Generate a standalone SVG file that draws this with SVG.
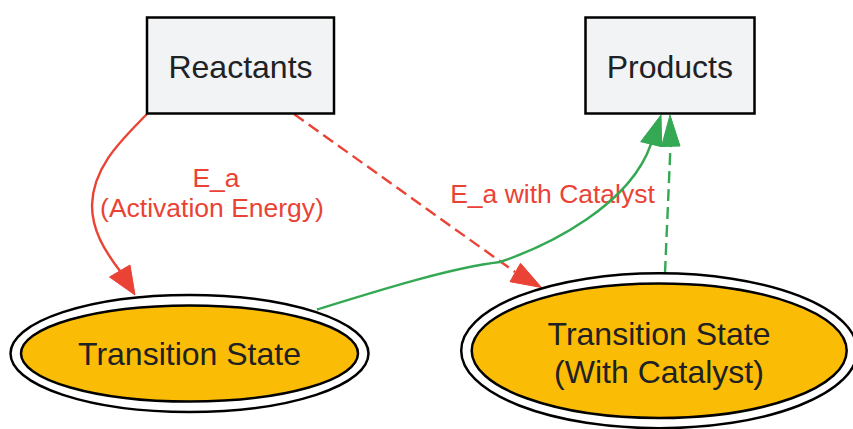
<svg xmlns="http://www.w3.org/2000/svg" width="853" height="429" viewBox="0 0 853 429">
<defs>
<style>
.box{fill:#F1F3F4;stroke:#000;stroke-width:2.5}
.ell{fill:#FBBC05;stroke:#000;stroke-width:2.5}
.ring{fill:none;stroke:#000;stroke-width:2.5}
.nt{font-family:"Liberation Sans",Arial,sans-serif;font-size:32px;fill:#202124;text-anchor:middle}
.et{font-family:"Liberation Sans",Arial,sans-serif;font-size:26.5px;fill:#EA4335;text-anchor:middle}
.red{fill:none;stroke:#EA4335;stroke-width:2.4}
.green{fill:none;stroke:#34A853;stroke-width:2.4}
.dash{stroke-dasharray:12,6}
.rh{fill:#EA4335;stroke:#EA4335;stroke-width:1}
.gh{fill:#34A853;stroke:#34A853;stroke-width:1}
</style>
</defs>
<rect width="853" height="429" fill="#fff"/>
<g id="edges">
<path class="red" d="M147,114 C125,137 93,165 92,205 C92,230 104,250 120,271"/>
<polygon class="rh" points="135,295 109.5,277 130,265"/>
<text class="et" x="216" y="187">E_a</text>
<text class="et" x="212" y="217">(Activation Energy)</text>
<path class="red dash" d="M294,114 L515,272"/>
<polygon class="rh" points="541.5,287.5 510,281.7 520.5,263.3"/>
<text class="et" x="552.5" y="203">E_a with Catalyst</text>
<path class="green" d="M317,309.5 C380,290 450,268 500,262 C550,245 630,205 651,144"/>
<polygon class="gh" points="661,115 640.7,141.7 661.7,146.7"/>
<path class="green dash" d="M665,273 L670.5,146"/>
<polygon class="gh" points="670,115 661.5,146.5 680,146"/>
</g>
<g id="reactants">
<rect class="box" x="147" y="17.5" width="187" height="96"/>
<text class="nt" x="240.5" y="77.7">Reactants</text>
</g>
<g id="products">
<rect class="box" x="585.5" y="17.5" width="169" height="96"/>
<text class="nt" x="669.8" y="77.7">Products</text>
</g>
<g id="ts">
<ellipse class="ring" cx="189.5" cy="353.5" rx="179" ry="58.5"/>
<ellipse class="ell" cx="189.5" cy="353.5" rx="168.5" ry="48"/>
<text class="nt" x="189.5" y="365">Transition State</text>
</g>
<g id="ts_cat">
<ellipse class="ring" cx="659.2" cy="350.7" rx="198" ry="77.5"/>
<ellipse class="ell" cx="659.2" cy="350.7" rx="187.5" ry="67.3"/>
<text class="nt" x="659" y="345">Transition State</text>
<text class="nt" x="659" y="383">(With Catalyst)</text>
</g>
</svg>
